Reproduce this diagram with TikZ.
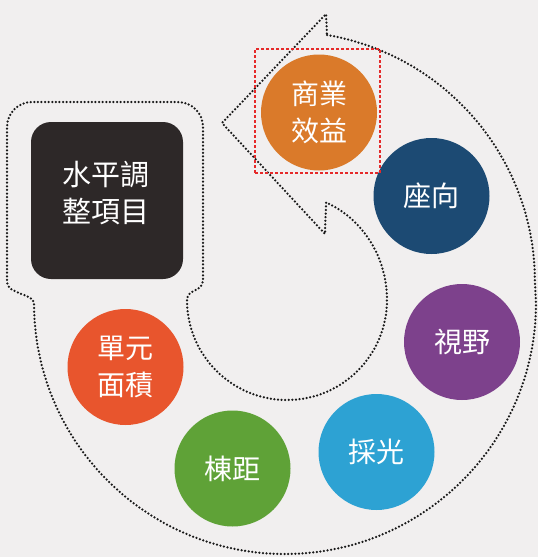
\documentclass[tikz,border=0pt]{standalone}
\usepackage{fontspec}
\newfontfamily\cjk{Noto Sans CJK TC}
\definecolor{bgc}{HTML}{F1EFEF}
\definecolor{cOrange}{HTML}{DA7A2A}
\definecolor{cNavy}{HTML}{1C4A73}
\definecolor{cPurple}{HTML}{7D418C}
\definecolor{cCyan}{HTML}{2DA2D3}
\definecolor{cGreen}{HTML}{5FA237}
\definecolor{cRed}{HTML}{E8552D}
\definecolor{cDark}{HTML}{2D2828}
\definecolor{cFocus}{HTML}{E52A2A}
\begin{document}
\begin{tikzpicture}[x=0.5pt,y=0.5pt,
  dotline/.style={line width=1.25pt, dash pattern=on 0pt off 1.8pt, line cap=round, draw=black!90},
  bubble/.style={circle, minimum size=58pt, inner sep=0pt, text=white, align=center,
    font=\cjk\fontsize{14}{18.5}\selectfont},
  focusbox/.style={draw=cFocus, line width=0.6pt, dash pattern=on 1.5pt off 1pt,
    minimum width=62.5pt, minimum height=62pt, inner sep=0pt},
  titletext/.style={text=white, align=center, font=\cjk\fontsize{14.5}{18.5}\selectfont}
]
\fill[bgc] (0,0) rectangle (538,-557);
\useasboundingbox (0,0) rectangle (538,-557);

% dotted outline: circular arrow joined to rounded frame
\draw[dotline] (327,-35)
  arc[start angle=80.3, end angle=0, radius=125pt]
  -- (536,-303)
  arc[start angle=0, end angle=-180, radius=125.5pt]
  .. controls (34,-294) and (7,-294) .. (7,-282)
  -- (7,-127)
  arc[start angle=180, end angle=90, radius=12.5pt]
  -- (178,-102)
  arc[start angle=90, end angle=0, radius=12.5pt]
  -- (203,-280)
  .. controls (203,-292) and (187,-289) .. (187,-300)
  arc[start angle=180, end angle=360, radius=50pt]
  arc[start angle=0, end angle=67, x radius=50pt, y radius=53pt]
  -- (325,-234) -- (222,-123) -- (326,-14) -- cycle;

% dark title box
\fill[cDark, rounded corners=10pt] (31,-122) rectangle (183,-279);
\node[titletext] (title) at (106,-193) {水平調\\整項目};

% bubbles
\node[bubble, fill=cOrange] (shangye) at (319,-112.5) {商業\\效益};
\node[bubble, fill=cNavy] (zuoxiang) at (431.5,-196) {座向};
\node[bubble, fill=cPurple] (shiye) at (462,-342) {視野};
\node[bubble, fill=cCyan] (caiguang) at (376.5,-452) {採光};
\node[bubble, fill=cGreen] (dongju) at (232.5,-468.5) {棟距};
\node[bubble, fill=cRed] (danyuan) at (125.5,-367) {單元\\面積};

% red dashed highlight
\node[focusbox] (focus) at (317.5,-111) {};
\end{tikzpicture}
\end{document}
